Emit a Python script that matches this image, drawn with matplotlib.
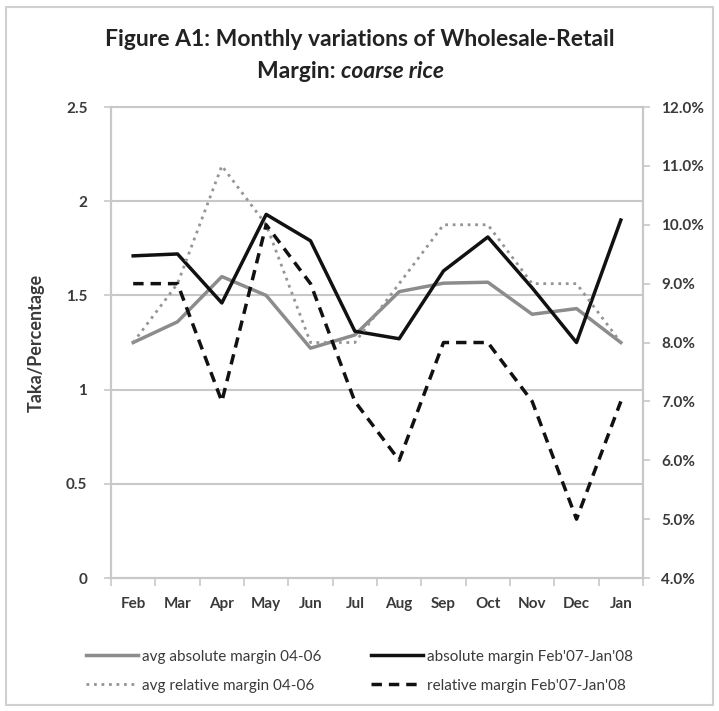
import numpy as np
import matplotlib
matplotlib.use("Agg")
import matplotlib.pyplot as plt
from matplotlib.patches import Rectangle

plt.rcParams['font.family'] = ['Lato', 'DejaVu Sans']

months = ["Feb", "Mar", "Apr", "May", "Jun", "Jul", "Aug", "Sep", "Oct", "Nov", "Dec", "Jan"]
avg_abs = [1.25, 1.36, 1.60, 1.50, 1.22, 1.29, 1.52, 1.565, 1.57, 1.40, 1.43, 1.25]
abs_0708 = [1.71, 1.72, 1.46, 1.93, 1.79, 1.31, 1.27, 1.63, 1.81, 1.54, 1.25, 1.90]
avg_rel = [8.0, 9.0, 11.0, 10.0, 8.0, 8.0, 9.0, 10.0, 10.0, 9.0, 9.0, 8.0]
rel_0708 = [9.0, 9.0, 7.0, 10.0, 9.0, 7.0, 6.0, 8.0, 8.0, 7.0, 5.0, 7.0]

left_ticks = [0, 0.5, 1, 1.5, 2, 2.5]
left_labels = ["0", "0.5", "1", "1.5", "2", "2.5"]
right_ticks = [4, 5, 6, 7, 8, 9, 10, 11, 12]

grid_c = "#c8c8c8"
txt_c = "#3a3a3a"

fig = plt.figure(figsize=(7.19, 7.11), dpi=100)
fig.patches.append(Rectangle((0.009, 0.008), 0.982, 0.982, transform=fig.transFigure,
                             fill=False, edgecolor="#d0d0d0", lw=1.5))

ax = fig.add_axes([0.1544, 0.187, 0.7399, 0.6625])
x = np.arange(len(months))

ax.set_xlim(-0.5, 11.5)
ax.set_ylim(0, 2.5)
ax.set_yticks(left_ticks)
ax.set_yticklabels(left_labels)
for t in left_ticks[1:]:
    ax.axhline(t, color=grid_c, lw=1.5, zorder=0)

ax.plot(x, avg_abs, color="#8c8c8c", lw=2.5, label="avg absolute margin 04-06", zorder=3)
ax.plot(x, abs_0708, color="#111111", lw=2.5, label="absolute margin Feb'07-Jan'08", zorder=4)

ax2 = ax.twinx()
ax2.set_ylim(4, 12)
ax2.set_yticks(right_ticks)
ax2.set_yticklabels(["%.1f%%" % v for v in right_ticks])
ax2.plot(x, avg_rel, color="#959595", lw=2.0, ls=(0, (1, 1.7)), label="avg relative margin 04-06", zorder=3)
ax2.plot(x, rel_0708, color="#111111", lw=2.5, ls=(0, (3, 2)), label="relative margin Feb'07-Jan'08", zorder=4)

ax.set_xticks(np.arange(-0.5, 12, 1))
ax.set_xticklabels([])
ax.set_xticks(x, minor=True)
ax.set_xticklabels(months, minor=True)
ax.tick_params(axis="x", which="major", length=6, color=grid_c, width=1.2)
ax.tick_params(axis="x", which="minor", length=0, pad=14, labelsize=11, labelcolor=txt_c)
ax.tick_params(axis="y", length=5, color=grid_c, width=1.2, labelsize=11, labelcolor=txt_c, pad=12)
ax2.tick_params(axis="y", length=5, color=grid_c, width=1.2, labelsize=11, labelcolor=txt_c, pad=8)
for lab in ax.get_xticklabels(minor=True) + ax.get_yticklabels() + ax2.get_yticklabels():
    lab.set_fontweight("bold")

for a in (ax, ax2):
    a.spines["top"].set_visible(False)
    for s in ("left", "right", "bottom"):
        a.spines[s].set_color(grid_c)
        a.spines[s].set_linewidth(1.5)
ax.axhline(2.5, color=grid_c, lw=1.5, zorder=0, clip_on=False)

ax.set_ylabel("Taka/Percentage", fontsize=13, fontweight="bold", color=txt_c, labelpad=8)
ax.yaxis.set_label_coords(-0.125, 0.5)

fig.text(0.5, 0.944, "Figure A1: Monthly variations of Wholesale-Retail", ha="center", va="center",
         fontsize=16.5, fontweight="bold", color="#222222")
fig.text(0.474, 0.899, "Margin: ", ha="right", va="center", fontsize=16.5, fontweight="bold", color="#222222")
fig.text(0.474, 0.899, "coarse rice", ha="left", va="center", fontsize=16.5, fontweight="bold",
         style="italic", color="#222222")

h1, l1 = ax.get_legend_handles_labels()
h2, l2 = ax2.get_legend_handles_labels()
handles = [h1[0], h2[0], h1[1], h2[1]]
labels = [l1[0], l2[0], l1[1], l2[1]]
leg = fig.legend(handles, labels, ncol=2, loc="center", bbox_to_anchor=(0.5, 0.056),
                 frameon=False, fontsize=11, handlelength=3.4, handletextpad=0.3,
                 columnspacing=3.2, labelspacing=1.0)
for t in leg.get_texts():
    t.set_color(txt_c)

fig.savefig("out.png", dpi=100)
